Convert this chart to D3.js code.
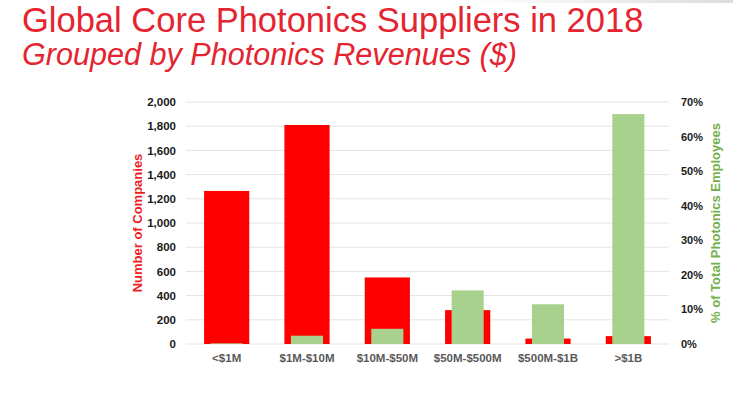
<!DOCTYPE html>
<html>
<head>
<meta charset="utf-8">
<script src="https://cdn.jsdelivr.net/npm/d3@7"></script>
<style>
  body { margin: 0; background: #fff; }
  text { font-family: "Liberation Sans", Arial, sans-serif; }
</style>
</head>
<body>
<script>
// data
const categories = ["<$1M", "$1M-$10M", "$10M-$50M", "$50M-$500M", "$500M-$1B", ">$1B"]
const companies = [1265, 1810, 550, 280, 45, 65]
const employeesPct = [0.2, 2.4, 4.4, 15.5, 11.5, 66.5]
const leftTicks = [0, 200, 400, 600, 800, 1000, 1200, 1400, 1600, 1800, 2000]
const rightTicks = [0, 10, 20, 30, 40, 50, 60, 70]

const width = 733, height = 398
const plot = { left: 186, right: 669, top: 102, bottom: 344 }

const red = "#ff0000", green = "#a9d18e"

const svg = d3.select("body").append("svg")
  .attr("width", width)
  .attr("height", height)

// faint grey band at the top right
const grad = svg.append("defs").append("linearGradient")
  .attr("id", "topband")
grad.append("stop").attr("offset", "0%").attr("stop-color", "#fff")
grad.append("stop").attr("offset", "100%").attr("stop-color", "#dcdcdc")
svg.append("rect")
  .attr("x", 470).attr("y", 0)
  .attr("width", width - 470).attr("height", 3)
  .attr("fill", "url(#topband)")

// titles
svg.append("text")
  .text("Global Core Photonics Suppliers in 2018")
  .attr("x", 22).attr("y", 32)
  .style("font-size", "34.5px")
  .attr("fill", "#e42430")
svg.append("text")
  .text("Grouped by Photonics Revenues ($)")
  .attr("x", 22).attr("y", 65)
  .style("font-size", "30.6px")
  .style("font-style", "italic")
  .attr("fill", "#e42430")

// scales
const x = d3.scaleBand()
  .domain(categories)
  .range([plot.left, plot.right])
  .paddingInner(0.4375)
  .paddingOuter(0.225)
const yL = d3.scaleLinear().domain([0, 2000]).range([plot.bottom, plot.top])
const yR = d3.scaleLinear().domain([0, 70]).range([plot.bottom, plot.top])

// gridlines
svg.append("g")
  .selectAll("line")
  .data(leftTicks)
  .join("line")
  .attr("x1", plot.left).attr("x2", plot.right)
  .attr("y1", d => yL(d)).attr("y2", d => yL(d))
  .attr("stroke", "#e4e4e4")
  .attr("stroke-width", 1)

// left axis
const axL = svg.append("g")
  .attr("transform", `translate(${plot.left - 10},0)`)
  .call(d3.axisLeft(yL).tickValues(leftTicks).tickSize(0).tickPadding(0)
    .tickFormat(d3.format(",")))
axL.select(".domain").remove()
axL.selectAll("text")
  .style("font-size", "11.5px").style("font-weight", "bold")
  .attr("fill", "#1a1a1a")

// right axis
const axR = svg.append("g")
  .attr("transform", `translate(${plot.right + 12},0)`)
  .call(d3.axisRight(yR).tickValues(rightTicks).tickSize(0).tickPadding(0)
    .tickFormat(d => d + "%"))
axR.select(".domain").remove()
axR.selectAll("text")
  .style("font-size", "11px").style("font-weight", "bold")
  .attr("fill", "#1a1a1a")

// x axis labels
const axX = svg.append("g")
  .attr("transform", `translate(0,${plot.bottom + 10})`)
  .call(d3.axisBottom(x).tickSize(0).tickPadding(0))
axX.select(".domain").remove()
axX.selectAll("text")
  .style("font-size", "11.5px").style("font-weight", "bold")
  .attr("fill", "#595959")

// red bars (companies)
svg.append("g")
  .selectAll("rect")
  .data(companies)
  .join("rect")
  .attr("x", (d, i) => x(categories[i]))
  .attr("width", x.bandwidth())
  .attr("y", d => yL(d))
  .attr("height", d => yL(0) - yL(d))
  .attr("fill", red)

// green bars (share of employees), drawn in front
const gw = x.bandwidth() * 0.71
svg.append("g")
  .selectAll("rect")
  .data(employeesPct)
  .join("rect")
  .attr("x", (d, i) => x(categories[i]) + (x.bandwidth() - gw) / 2)
  .attr("width", gw)
  .attr("y", d => yR(d))
  .attr("height", d => yR(0) - yR(d))
  .attr("fill", green)

// axis titles
const midY = (plot.top + plot.bottom) / 2
svg.append("text")
  .text("Number of Companies")
  .attr("transform", `translate(142,${midY}) rotate(-90)`)
  .attr("text-anchor", "middle")
  .style("font-size", "13px").style("font-weight", "bold")
  .attr("fill", "#ee1c24")
svg.append("text")
  .text("% of Total Photonics Employees")
  .attr("transform", `translate(720,${midY}) rotate(-90)`)
  .attr("text-anchor", "middle")
  .style("font-size", "13px").style("font-weight", "bold")
  .attr("fill", "#74b04c")
</script>
</body>
</html>
